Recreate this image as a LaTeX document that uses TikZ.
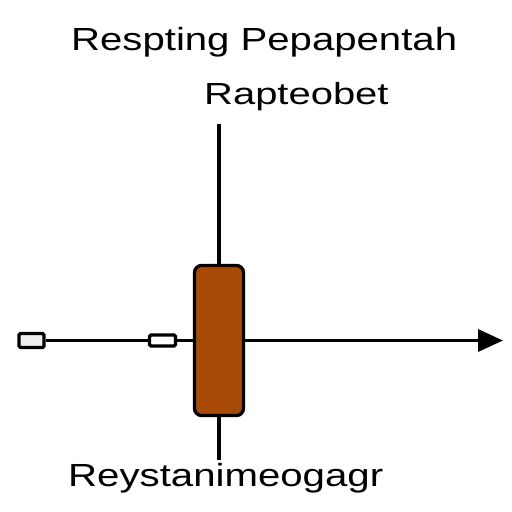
\documentclass[tikz,border=0pt]{standalone}
\usepackage{fontspec}
\setmainfont{Liberation Sans}
\usetikzlibrary{arrows.meta}
\definecolor{barbrown}{RGB}{168,74,8}
\definecolor{boxgray}{RGB}{238,238,238}
\tikzset{
  lbl/.style={inner sep=0pt, anchor=base west, text=black},
  smallbox/.style={draw=black, line width=3.3pt, rounded corners=1.5pt, inner sep=0pt},
  conn/.style={draw=black, line width=3.3pt},
}
\begin{document}
\begin{tikzpicture}[x=1pt,y=-1pt]
\useasboundingbox (0,0) rectangle (512,512);
\fill[white] (0,0) rectangle (512,512);
% texts
\node[lbl] (title) at (71,50) {\scalebox{1.254}[1]{\fontsize{32}{38}\selectfont Respting Pepapentah}};
\node[lbl] (sub) at (204,104) {\scalebox{1.31}[1]{\fontsize{30.5}{36}\selectfont Rapteobet}};
\node[lbl] (bottom) at (68,486) {\scalebox{1.256}[1]{\fontsize{32}{38}\selectfont Reystanimeogagr}};
% boxes
\node[smallbox, fill=boxgray, minimum width=25pt, minimum height=14pt] (b1) at (31.5,340.5) {};
\node[smallbox, fill=white, minimum width=26pt, minimum height=11pt] (b2) at (162.5,340.5) {};
\node[draw=black, line width=3.3pt, fill=barbrown, rounded corners=7pt, minimum width=49pt, minimum height=150pt, inner sep=0pt] (bar) at (219,340.5) {};
% coordinates
\coordinate (top) at (219,124);
\coordinate (bot) at (219,460);
\coordinate (tip) at (503,340.5);
% connectors
\draw[conn] (top) -- (bar.north);
\draw[conn] (bar.south) -- (bot);
\draw[conn] (b1.east) -- (b2.west);
\draw[conn] (b2.east) -- (bar.west);
\draw[conn, -{Triangle[length=25pt,width=22pt]}] (bar.east) -- (tip);
\end{tikzpicture}
\end{document}
